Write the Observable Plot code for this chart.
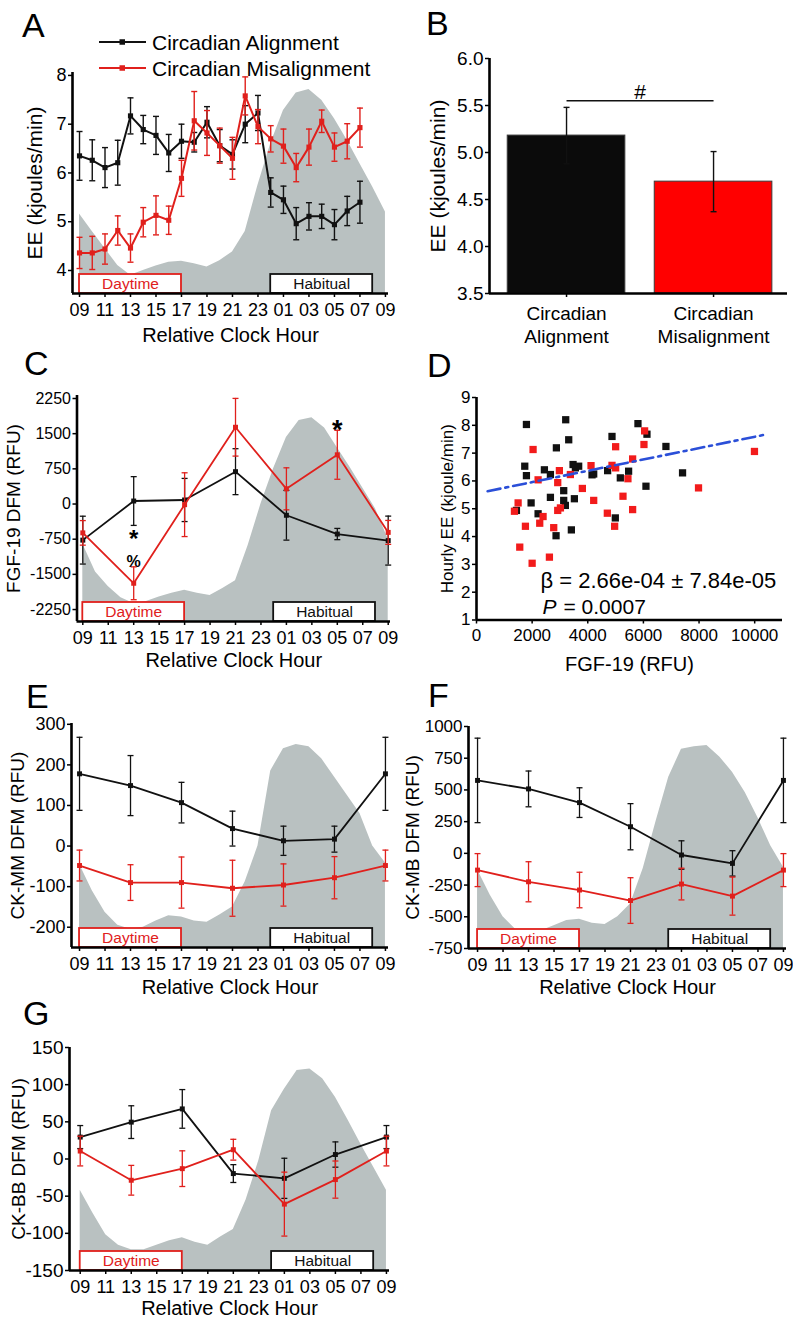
<!DOCTYPE html>
<html><head><meta charset="utf-8">
<script src="https://cdn.jsdelivr.net/npm/d3@7"></script>
<script src="https://cdn.jsdelivr.net/npm/@observablehq/plot@0.6"></script>
<style>
body{margin:0;background:#fff;}
#fig{position:relative;width:793px;height:1323px;overflow:hidden;background:#fff;font-family:"Liberation Sans",Arial,Helvetica,sans-serif;}
.panel{position:absolute;}
</style></head><body><div id="fig"></div>
<script>
// ---------- shared tick labels ----------
const hourTicks = [0,2,4,6,8,10,12,14,16,18,20,22,24];
const hourTickLabels = ["09","11","13","15","17","19","21","23","01","03","05","07","09"];
const seriesNames = ["Circadian Alignment","Circadian Misalignment"];
const periodNames = ["Daytime","Habitual"];
const periodStart = [0,15];
const periodEnd = [8,23];
const shadeHours = [0,1,2,3,4,5,6,7,8,9,10,11,12,13,14,15,16,17,18,19,20,21,22,23,24];

// ---------- A: hourly energy expenditure ----------
const eeHours = [0,1,2,3,4,5,6,7,8,9,10,11,12,13,14,15,16,17,18,19,20,21,22];
const eeAlign = [6.35,6.26,6.11,6.21,7.17,6.89,6.77,6.41,6.65,6.63,7.04,6.56,6.38,7.0,7.23,5.6,5.45,4.96,5.11,5.11,4.94,5.22,5.4];
const eeAlignErr = [0.5,0.42,0.41,0.46,0.37,0.29,0.39,0.38,0.35,0.2,0.32,0.33,0.3,0.38,0.36,0.3,0.28,0.33,0.28,0.25,0.31,0.3,0.43];
const eeMis = [4.36,4.36,4.44,4.82,4.46,4.99,5.13,5.03,5.89,7.07,6.82,6.56,6.3,7.58,6.95,6.7,6.55,6.11,6.53,7.06,6.53,6.65,6.93];
const eeMisErr = [0.32,0.34,0.31,0.3,0.29,0.3,0.4,0.29,0.37,0.6,0.46,0.36,0.43,0.39,0.35,0.27,0.35,0.29,0.37,0.23,0.29,0.36,0.4];
const shadeA = [5.16,4.8,4.45,4.1,3.9,4.0,4.09,4.17,4.19,4.14,4.07,4.2,4.38,4.8,5.75,6.6,7.28,7.64,7.71,7.49,7.11,6.67,6.19,5.71,5.2];

// ---------- B: mean EE ----------
const barLabels = ["Circadian\nAlignment","Circadian\nMisalignment"];
const barMeans = [5.18,4.69];
const barErr = [0.3,0.32];
const barFill = ["#0b0b0b","#ff0000"];
const bracketText = "#";

// ---------- 4-hourly samples ----------
const sampleHours = [0,4,8,12,16,20,24];
// C: FGF-19
const fgfAlign = [-770,64,86,690,-240,-640,-780];
const fgfAlignErr = [510,520,460,490,530,120,522];
const fgfMis = [-615,-1690,-14,1637,324,1050,-605];
const fgfMisErr = [262,350,680,615,448,522,255];
const shadeC = [-850,-1450,-1760,-2000,-2120,-2080,-1980,-1900,-1840,-1900,-1950,-1800,-1637,-880,0,760,1420,1780,1840,1620,1200,785,340,-100,-750];
const sigHours = [20,4,4];
const sigValues = [1390,-906,-1333];
const sigText = ["*","*","%"];
const sigSize = [27,24,16];
// E: CK-MM
const ckmmAlign = [178,149,107,43,13,17,178];
const ckmmAlignErr = [90,74,50,43,36,32,90];
const ckmmMis = [-48,-90,-90,-104,-96,-78,-48];
const ckmmMisErr = [38,44,63,69,52,52,38];
const shadeE = [-45,-110,-163,-195,-205,-200,-185,-172,-175,-185,-188,-170,-150,-88,0,185,240,250,245,215,170,125,80,0,-42];
// F: CK-MB
const ckmbAlign = [575,508,400,210,-13,-79,575];
const ckmbAlignErr = [333,141,117,182,112,100,333];
const ckmbMis = [-132,-224,-289,-372,-242,-337,-132];
const ckmbMisErr = [130,158,140,180,125,150,130];
const shadeF = [-130,-330,-500,-600,-630,-610,-570,-530,-520,-550,-560,-500,-400,-120,250,600,820,840,850,760,640,480,280,60,-110];
// G: CK-BB
const ckbbAlign = [29.5,49.6,67.4,-19.6,-26,6,29.5];
const ckbbAlignErr = [15.5,22,26,12,27,17,15.5];
const ckbbMis = [10.7,-28.6,-13,12.5,-60.7,-27.7,10.7];
const ckbbMisErr = [20,20,24,14,43,25,20];
const shadeG = [-42,-73,-102,-116,-122,-122,-116,-110,-106,-112,-116,-105,-95,-55,-2,65,94,119,121,108,83,52,20,-11,-42];

// ---------- D: scatter ----------
const fgfAlignX = [1795,3207,3315,2872,1735,1795,2441,2657,3471,3673,3555,4153,4213,4714,4871,5804,6128,5468,5170,6810,7407,6092,2657,3135,3135,3195,3519,1963,1436,2214,4990,2860,3410];
const eeAlignY = [8.03,8.2,7.48,7.19,6.53,6.19,6.4,6.23,6.59,6.53,6.47,6.22,6.25,6.37,7.6,8.06,7.68,6.35,6.11,7.24,6.29,5.81,5.41,5.65,5.3,5.12,5.36,5.21,4.94,4.82,4.67,4.03,4.24];
const fgfMisX = [2034,2214,2980,3375,2920,3805,4117,4213,4871,5002,5002,5612,5444,6043,6020,5266,5612,4703,4966,7981,9992,1496,1364,1759,1555,2393,2273,2776,2920,3017,2621,2000];
const eeMisY = [7.13,6.04,6.37,6.23,5.94,5.73,6.55,5.3,6.56,7.23,6.47,6.79,6.08,7.8,7.31,5.45,4.97,4.84,4.37,5.75,7.06,5.21,4.91,4.37,3.62,4.72,4.48,4.32,4.94,5.03,3.26,3.04];
const fitX = [400,10400];
const fitY = [5.63,7.67];
const fitBeta = "β = 2.66e-04 ± 7.84e-05";
const fitP = "= 0.0007";

// ---------- styling ----------
const FONT = '"Liberation Sans", Arial, Helvetica, sans-serif';
const GREY = "#b9c1c1";
const RED = "#e0201c";
const BLACK = "#111111";
const capSymbol = {draw(ctx, size){ const r = Math.sqrt(size/Math.PI); ctx.moveTo(-r,0); ctx.lineTo(r,0); }};
const fig = document.getElementById("fig");

function place(node, left, top){
  const d = document.createElement("div");
  d.className = "panel"; d.style.left = left+"px"; d.style.top = top+"px";
  d.appendChild(node); fig.appendChild(d);
}

function errSeries(xs, vals, errs, color, o = {}){
  const idx = d3.range(vals.length);
  const lw = o.lw ?? 1.8, ew = o.ew ?? 1.3, cap = o.cap ?? 3, ms = o.ms ?? 2.8;
  const marks = [];
  if (o.line !== false) marks.push(Plot.line(idx, {x: i=>xs[i], y: i=>vals[i], stroke: color, strokeWidth: lw}));
  marks.push(
    Plot.ruleX(idx, {x: i=>xs[i], y1: i=>vals[i]-errs[i], y2: i=>vals[i]+errs[i], stroke: color, strokeWidth: ew}),
    Plot.dot(idx, {x: i=>xs[i], y: i=>vals[i]-errs[i], symbol: capSymbol, r: cap, stroke: color, strokeWidth: ew, fill: "none"}),
    Plot.dot(idx, {x: i=>xs[i], y: i=>vals[i]+errs[i], symbol: capSymbol, r: cap, stroke: color, strokeWidth: ew, fill: "none"})
  );
  if (ms) marks.push(Plot.dot(idx, {x: i=>xs[i], y: i=>vals[i], symbol: "square", r: ms, fill: color, stroke: "none"}));
  return marks;
}

function yTitle(label, dx, size){
  return Plot.text([label], {frameAnchor: "left", dx, rotate: -90, textAnchor: "middle", lineAnchor: "middle", text: d=>d, fontSize: size});
}
function xTitle(label, dy, size){
  return Plot.text([label], {frameAnchor: "bottom", dy, textAnchor: "middle", lineAnchor: "middle", text: d=>d, fontSize: size});
}

function timePanel(c){
  const [x0] = c.xDomain, [y0, y1] = c.yDomain;
  const innerH = c.height - c.mt - c.mb;
  const boxH = 19 * (y1 - y0) / innerH;
  const pIdx = [0,1];
  return Plot.plot({
    width: c.width, height: c.height,
    marginLeft: c.ml, marginRight: c.mr, marginTop: c.mt, marginBottom: c.mb,
    style: {fontFamily: FONT, fontSize: c.yTickFont+"px", color: "#000", background: "transparent", overflow: "visible"},
    x: {domain: c.xDomain},
    y: {domain: c.yDomain},
    marks: [
      Plot.areaY(shadeHours, {x: d=>d, y1: y0, y2: (d,i)=>c.shade[i], fill: GREY}),
      Plot.rect([0], {x1: periodStart[0], x2: periodEnd[0], y1: y0, y2: y0+boxH, fill: "white", stroke: RED, strokeWidth: 1.8}),
      Plot.rect([1], {x1: periodStart[1], x2: periodEnd[1], y1: y0, y2: y0+boxH, fill: "white", stroke: BLACK, strokeWidth: 1.8}),
      Plot.text(pIdx, {x: i=>(periodStart[i]+periodEnd[i])/2, y: y0+boxH/2, text: i=>periodNames[i], fill: i=>i===0?RED:BLACK, fontSize: 15.5}),
      Plot.axisX({ticks: hourTicks, tickFormat: d=>hourTickLabels[hourTicks.indexOf(d)], tickSize: 4, tickPadding: 6, label: null, fontSize: c.xTickFont, strokeWidth: 1.5}),
      Plot.axisY({ticks: c.yTicks, tickFormat: c.yFmt || (d=>String(d)), tickSize: 4, tickPadding: 2, label: null, strokeWidth: 1.5}),
      Plot.ruleY([y0], {strokeWidth: 2.6}),
      Plot.ruleX([x0], {strokeWidth: 2.6}),
      ...errSeries(c.hours, c.align, c.alignErr, BLACK, c.so),
      ...errSeries(c.hours, c.mis, c.misErr, RED, c.so),
      ...(c.extra || []),
      xTitle("Relative Clock Hour", c.xLabelDy, 20),
      yTitle(c.yLabel, c.yLabelDx, c.yLabelFont)
    ]
  });
}

// ---------- Panel A ----------
place(timePanel({
  width: 400, height: 350, ml: 72, mr: 12, mt: 72, mb: 57,
  xDomain: [-0.55, 24.24], yDomain: [3.528, 8.06],
  yTicks: [4,5,6,7,8], yTickFont: 18, xTickFont: 18,
  shade: shadeA, hours: eeHours,
  align: eeAlign, alignErr: eeAlignErr, mis: eeMis, misErr: eeMisErr,
  so: {lw: 2, ew: 1.4, cap: 3, ms: 2.9},
  xLabelDy: 42, yLabel: "EE (kjoules/min)", yLabelDx: -37, yLabelFont: 21
}), 0, 0);

// ---------- Panel B ----------
{
  const idx = [0,1];
  place(Plot.plot({
    width: 393, height: 350, marginLeft: 89, marginRight: 6, marginTop: 58, marginBottom: 57,
    style: {fontFamily: FONT, fontSize: "19px", color: "#000", background: "transparent", overflow: "visible"},
    x: {domain: [-0.524, 1.503]},
    y: {domain: [3.5, 6.0]},
    color: {type: "identity"},
    marks: [
      Plot.rectY(idx, {x1: i=>i-0.4, x2: i=>i+0.4, y1: 3.5, y2: i=>barMeans[i], fill: i=>barFill[i], stroke: "#3a3a3a", strokeWidth: 1}),
      ...errSeries(idx, barMeans, barErr, BLACK, {line: false, ms: 0, ew: 1.4, cap: 3}),
      Plot.link([0], {x1: 0, x2: 1, y1: 5.55, y2: 5.55, stroke: BLACK, strokeWidth: 1.5}),
      Plot.text([bracketText], {x: 0.5, y: 5.64, text: d=>d, fontSize: 21}),
      Plot.axisY({ticks: [3.5,4,4.5,5,5.5,6], tickFormat: d3.format(".1f"), tickSize: 4, tickPadding: 2, label: null, strokeWidth: 1.5}),
      Plot.axisX({ticks: [0,1], tickFormat: () => "", tickSize: 4, label: null, strokeWidth: 1.5}),
      Plot.ruleY([3.5], {strokeWidth: 2.6}),
      Plot.ruleX([-0.524], {strokeWidth: 2.6}),
      Plot.text(idx, {x: i=>i, text: i=>barLabels[i], frameAnchor: "bottom", dy: 9, lineAnchor: "top", lineHeight: 1.26, fontSize: 19}),
      yTitle("EE (kjoules/min)", -51, 21)
    ]
  }), 400, 0);
}

// ---------- Panel C ----------
place(timePanel({
  width: 400, height: 340, ml: 76.5, mr: 10, mt: 55, mb: 59,
  xDomain: [-0.456, 24.18], yDomain: [-2505, 2314],
  yTicks: [-2250,-1500,-750,0,750,1500,2250], yTickFont: 16, xTickFont: 18,
  shade: shadeC, hours: sampleHours,
  align: fgfAlign, alignErr: fgfAlignErr, mis: fgfMis, misErr: fgfMisErr,
  so: {lw: 1.8, ew: 1.3, cap: 3, ms: 2.8},
  extra: [Plot.text(d3.range(sigText.length), {x: i=>sigHours[i], y: i=>sigValues[i], text: i=>sigText[i], fontSize: i=>sigSize[i], fontWeight: "bold", lineAnchor: "bottom"})],
  xLabelDy: 39, yLabel: "FGF-19 DFM (RFU)", yLabelDx: -63, yLabelFont: 19
}), 0, 340);

// ---------- Panel D ----------
{
  const ia = d3.range(fgfAlignX.length), im = d3.range(fgfMisX.length);
  place(Plot.plot({
    width: 393, height: 340, marginLeft: 76, marginRight: 11, marginTop: 57, marginBottom: 60.5,
    style: {fontFamily: FONT, fontSize: "17px", color: "#000", background: "transparent", overflow: "visible"},
    x: {domain: [0, 11000]},
    y: {domain: [1, 9]},
    marks: [
      Plot.axisX({ticks: [0,2000,4000,6000,8000,10000], tickFormat: d=>String(d), tickSize: 4, tickPadding: 5, label: null, strokeWidth: 1.5}),
      Plot.axisY({ticks: [1,2,3,4,5,6,7,8,9], tickFormat: d=>String(d), tickSize: 4, tickPadding: 2, label: null, strokeWidth: 1.5}),
      Plot.dot(ia, {x: i=>fgfAlignX[i], y: i=>eeAlignY[i], symbol: "square", r: 4.1, fill: BLACK, stroke: "none"}),
      Plot.dot(im, {x: i=>fgfMisX[i], y: i=>eeMisY[i], symbol: "square", r: 4.1, fill: "#f21b1b", stroke: "none"}),
      Plot.line([0,1], {x: i=>fitX[i], y: i=>fitY[i], stroke: "#2b4fd8", strokeWidth: 2.6, strokeDasharray: "13,5,3,5"}),
      Plot.ruleY([1], {strokeWidth: 2.6}),
      Plot.ruleX([0], {strokeWidth: 2.6}),
      Plot.text([fitBeta], {frameAnchor: "bottom-left", dx: 64, dy: -32.5, textAnchor: "start", lineAnchor: "bottom", text: d=>d, fontSize: 22}),
      Plot.text(["P"], {frameAnchor: "bottom-left", dx: 66, dy: -6.5, textAnchor: "start", lineAnchor: "bottom", text: d=>d, fontSize: 21, fontStyle: "italic"}),
      Plot.text([fitP], {frameAnchor: "bottom-left", dx: 87, dy: -6.5, textAnchor: "start", lineAnchor: "bottom", text: d=>d, fontSize: 21}),
      xTitle("FGF-19 (RFU)", 45, 20),
      yTitle("Hourly EE (kjoule/min)", -29, 17)
    ]
  }), 400, 340);
}

// ---------- Panel E ----------
place(timePanel({
  width: 400, height: 340, ml: 71, mr: 12, mt: 53, mb: 63,
  xDomain: [-0.63, 24.24], yDomain: [-250, 302],
  yTicks: [-200,-100,0,100,200,300], yTickFont: 18, xTickFont: 18,
  shade: shadeE, hours: sampleHours,
  align: ckmmAlign, alignErr: ckmmAlignErr, mis: ckmmMis, misErr: ckmmMisErr,
  so: {lw: 1.8, ew: 1.3, cap: 3, ms: 2.8},
  xLabelDy: 40, yLabel: "CK-MM DFM (RFU)", yLabelDx: -54, yLabelFont: 19
}), 0, 670);

// ---------- Panel F ----------
place(timePanel({
  width: 393, height: 340, ml: 68, mr: 7, mt: 56, mb: 62,
  xDomain: [-0.71, 24.24], yDomain: [-750, 1000],
  yTicks: [-750,-500,-250,0,250,500,750,1000], yTickFont: 17, xTickFont: 18,
  shade: shadeF, hours: sampleHours,
  align: ckmbAlign, alignErr: ckmbAlignErr, mis: ckmbMis, misErr: ckmbMisErr,
  so: {lw: 1.8, ew: 1.3, cap: 3, ms: 2.8},
  xLabelDy: 39, yLabel: "CK-MB DFM (RFU)", yLabelDx: -56, yLabelFont: 19
}), 400, 670);

// ---------- Panel G ----------
place(timePanel({
  width: 400, height: 323, ml: 69, mr: 11, mt: 47, mb: 53,
  xDomain: [-0.84, 24.24], yDomain: [-150, 150],
  yTicks: [-150,-100,-50,0,50,100,150], yTickFont: 19, xTickFont: 18,
  shade: shadeG, hours: sampleHours,
  align: ckbbAlign, alignErr: ckbbAlignErr, mis: ckbbMis, misErr: ckbbMisErr,
  so: {lw: 1.8, ew: 1.3, cap: 3, ms: 2.8},
  xLabelDy: 38, yLabel: "CK-BB DFM (RFU)", yLabelDx: -51, yLabelFont: 19
}), 0, 1000);

// ---------- overlay: legend of A and panel letters ----------
{
  const svg = d3.select(fig).append("svg")
    .attr("width", 793).attr("height", 1323)
    .style("position", "absolute").style("left", "0px").style("top", "0px")
    .style("pointer-events", "none").style("font-family", FONT);
  const legColors = [BLACK, RED];
  const legY = [42, 68];
  seriesNames.forEach((name, i) => {
    const g = svg.append("g").attr("transform", `translate(0,${legY[i]})`);
    g.append("line").attr("x1", 99).attr("x2", 146).attr("stroke", legColors[i]).attr("stroke-width", 2);
    g.append("rect").attr("x", 119.5).attr("y", -2.75).attr("width", 5.5).attr("height", 5.5).attr("fill", legColors[i]);
    g.append("text").attr("x", 152).attr("y", 7.5).attr("font-size", 21).text(name);
  });
  const letters = ["A","B","C","D","E","F","G"];
  const lx = [22,426,24,427,26,428,23];
  const ly = [37,35,375,377,708,707,1025];
  letters.forEach((t,i) => svg.append("text").attr("x", lx[i]).attr("y", ly[i]).attr("font-size", 34).text(t));
}
</script></body></html>
